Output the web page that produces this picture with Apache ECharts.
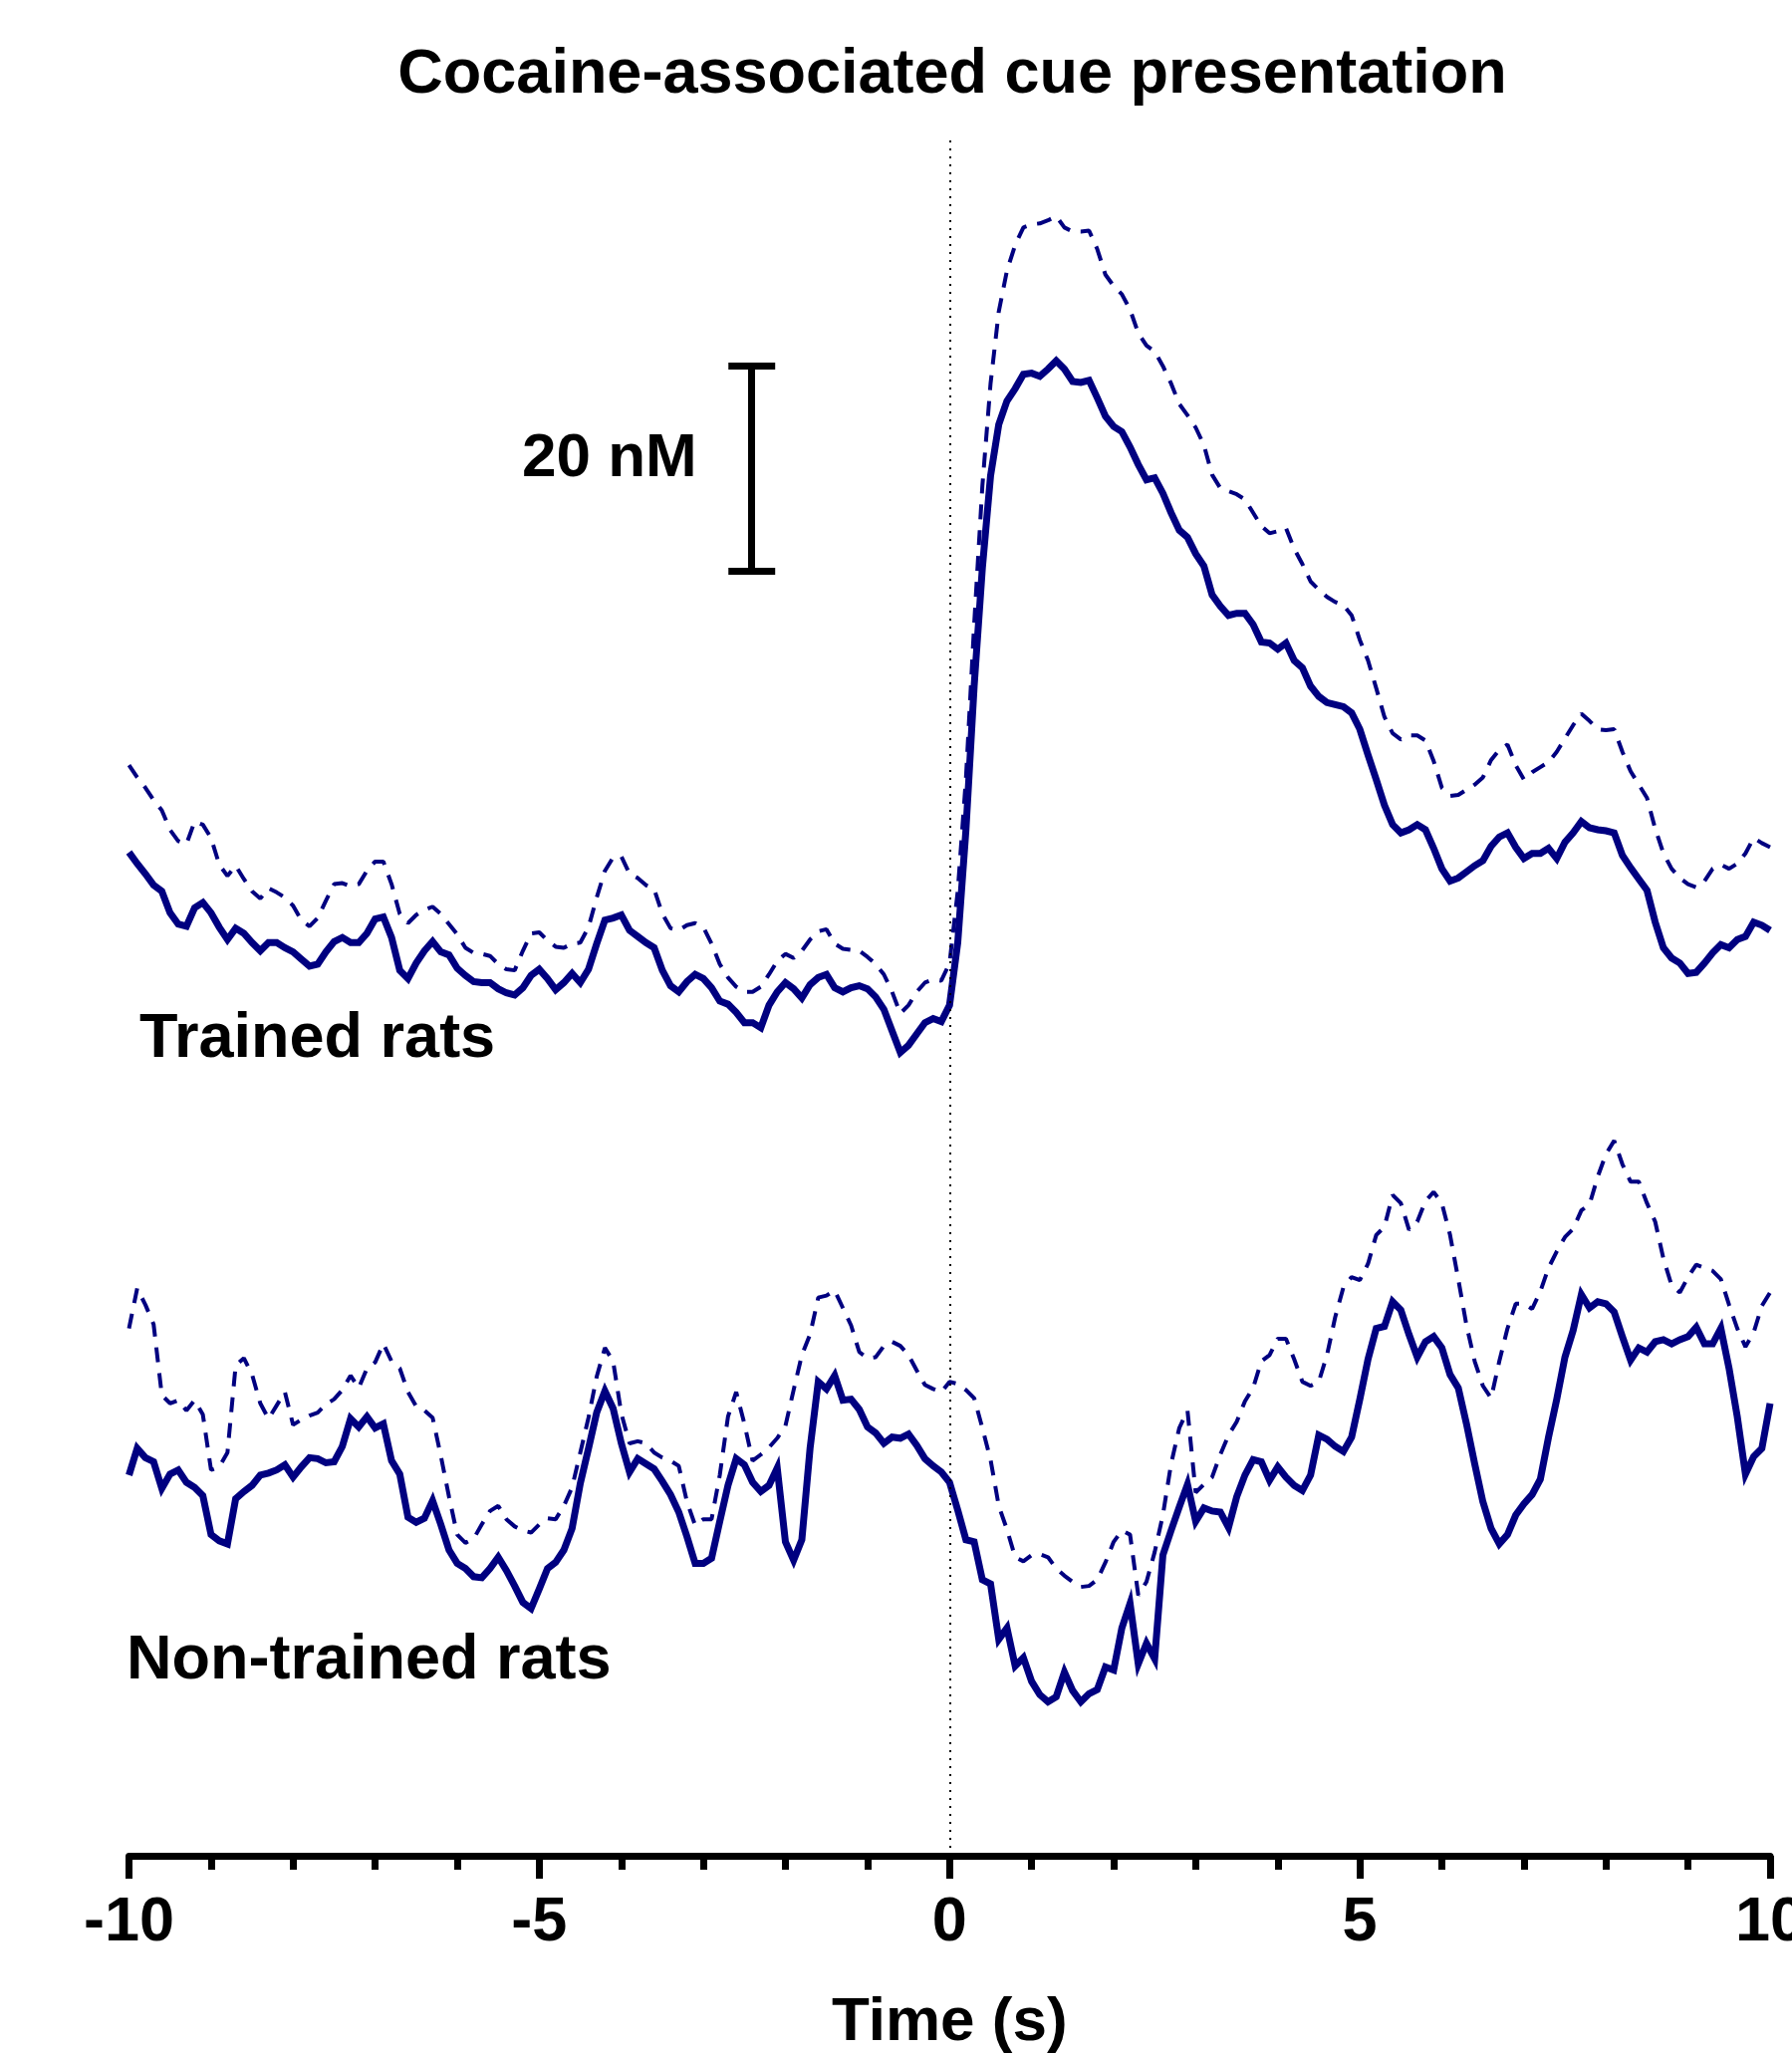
<!DOCTYPE html>
<html>
<head>
<meta charset="utf-8">
<script src="https://cdn.jsdelivr.net/npm/echarts@6/dist/echarts.min.js"></script>
<style>
html,body{margin:0;padding:0;background:#fff;}
#chart{width:1799px;height:2061px;}
</style>
</head>
<body>
<div id="chart"></div>
<script>
// Time axis: samples every 0.1 s from -10 s to +10 s
const T_START = -10;
const T_STEP = 0.1;
const xTicks = [-10, -5, 0, 5, 10];

// Dopamine concentration (nM, arbitrary baseline)
const trainedMean = [
97.8,96.7,95.7,94.6,94.0,91.9,90.8,90.6,92.4,92.9,
91.9,90.5,89.3,90.4,89.9,89.0,88.2,89.0,89.0,88.5,
88.1,87.4,86.7,86.9,88.1,89.1,89.5,89.0,89.0,89.9,
91.3,91.5,89.5,86.3,85.5,87.0,88.2,89.1,88.1,87.8,
86.5,85.8,85.2,85.1,85.1,84.5,84.1,83.9,84.6,85.8,
86.4,85.5,84.4,85.1,86.0,85.1,86.4,88.9,91.2,91.4,
91.7,90.2,89.6,89.0,88.5,86.3,84.8,84.2,85.2,85.9,
85.5,84.6,83.3,83.0,82.2,81.2,81.2,80.7,82.9,84.2,
85.1,84.5,83.6,84.9,85.6,85.9,84.6,84.2,84.6,84.8,
84.5,83.7,82.5,80.4,78.3,79.0,80.1,81.2,81.6,81.3,
82.9,
89.0,100.0,114.0,125.5,134.5,139.5,141.8,143.0,144.4,144.5,
144.2,144.9,145.7,144.9,143.7,143.6,143.8,142.1,140.3,139.3,
138.8,137.3,135.6,134.1,134.3,132.8,130.9,129.2,128.5,126.9,
125.7,122.9,121.8,120.9,121.1,121.1,120.0,118.3,118.2,117.6,
118.2,116.5,115.8,114.0,113.0,112.4,112.2,112.0,111.4,109.8,
107.3,104.9,102.4,100.5,99.7,100.0,100.5,100.0,98.2,96.2,
95.0,95.3,95.9,96.5,97.0,98.4,99.3,99.7,98.3,97.2,
97.7,97.7,98.2,97.2,98.8,99.7,100.8,100.2,100.0,99.9,
99.7,97.5,96.3,95.2,94.1,91.0,88.5,87.5,87.0,86.0,
86.1,87.0,88.0,88.8,88.5,89.3,89.6,91.0,90.7,90.2
];
const trainedUpper = [
106.3,105.1,104.1,102.9,101.9,100.0,98.9,98.6,100.8,100.5,
99.2,96.6,95.5,96.5,95.2,94.0,93.3,94.3,93.9,93.4,
92.6,91.2,90.6,91.4,93.1,94.7,94.8,94.5,94.7,96.0,
96.9,96.9,94.7,91.8,90.9,91.7,92.2,92.5,91.8,90.8,
89.8,88.5,88.0,87.9,87.7,86.9,86.4,86.3,88.2,89.9,
90.0,89.2,88.6,88.5,88.9,89.0,90.5,93.4,96.0,97.3,
97.4,95.7,95.3,94.6,94.2,91.8,90.4,90.2,90.7,90.9,
90.5,88.9,86.9,85.6,84.7,84.2,84.2,84.7,85.9,87.2,
87.9,87.5,88.2,89.3,90.1,90.3,88.9,88.4,88.3,88.2,
87.6,86.9,85.9,84.2,82.1,82.9,84.2,85.1,85.4,85.3,
87.0,
94.0,105.0,120.0,133.5,143.5,150.5,154.5,157.0,158.7,159.0,
159.1,159.4,159.8,158.7,158.3,158.3,158.4,156.6,154.1,153.0,
152.2,150.7,148.4,147.2,146.6,145.2,143.5,141.5,140.4,139.2,
137.5,134.6,133.3,133.0,132.7,132.2,130.9,129.6,128.9,129.1,
129.4,127.4,125.9,124.2,123.4,122.7,122.2,121.9,120.9,118.5,
116.5,113.8,111.0,109.4,108.8,109.2,109.2,108.7,106.7,104.1,
103.3,103.4,103.9,104.4,105.1,106.8,107.8,108.3,106.3,104.9,
105.6,106.1,106.6,107.6,108.9,110.2,111.3,110.6,109.8,109.7,
109.8,107.6,105.7,104.4,103.1,100.1,97.7,96.2,95.3,94.7,
94.4,95.0,96.2,96.6,96.2,96.7,97.7,99.2,98.7,98.3
];
const nonTrainedMean = [
37.1,39.7,38.8,38.4,35.8,37.2,37.6,36.4,35.9,35.1,
31.3,30.7,30.4,34.8,35.5,36.1,37.1,37.3,37.6,38.1,
36.9,37.9,38.8,38.7,38.3,38.4,39.9,42.6,41.8,42.8,
41.7,42.1,38.5,37.2,33.0,32.5,32.9,34.6,32.3,29.8,
28.5,28.0,27.2,27.1,28.0,29.1,27.8,26.3,24.7,24.1,
26.0,28.0,28.6,29.8,31.9,36.3,39.7,43.2,45.3,43.6,
40.2,37.4,38.7,38.2,37.7,36.5,35.2,33.5,31.1,28.5,
28.5,29.0,32.6,36.1,38.7,38.1,36.4,35.5,36.1,37.8,
30.6,28.8,30.8,39.7,46.2,45.5,46.8,44.4,44.5,43.5,
41.8,41.2,40.2,40.8,40.7,41.1,40.0,38.7,38.0,37.4,
36.4,
33.7,30.8,30.6,26.9,26.5,21.1,22.2,18.5,19.3,17.0,
15.7,15.0,15.5,17.9,16.1,15.0,15.8,16.2,18.4,18.1,
22.2,24.6,18.7,20.7,19.2,29.3,31.7,34.0,36.2,32.6,
33.9,33.6,33.5,32.0,35.0,37.1,38.6,38.4,36.6,37.9,
36.9,36.1,35.6,37.1,41.0,40.6,39.9,39.4,40.8,44.5,
48.4,51.4,51.6,54.0,53.2,50.8,48.6,50.1,50.6,49.5,
46.9,45.6,42.1,38.2,34.5,31.9,30.4,31.3,33.2,34.3,
35.2,36.7,40.8,44.5,48.6,51.2,54.7,53.4,54.0,53.8,
53.0,50.6,48.3,49.5,49.1,50.1,50.3,49.9,50.3,50.6,
51.5,49.9,49.9,51.4,47.5,42.8,37.2,38.9,39.7,44.1
];
const nonTrainedUpper = [
51.4,55.3,53.7,51.8,44.9,44.1,44.4,43.4,44.4,43.0,
37.6,37.9,39.3,47.8,48.5,46.9,44.1,42.6,43.9,45.2,
42.0,42.5,42.9,43.2,44.0,44.5,45.4,46.8,45.6,47.5,
48.1,49.9,48.2,47.5,45.2,43.8,43.4,42.7,39.0,35.0,
31.3,30.5,30.9,32.3,33.6,34.1,32.8,32.1,31.7,31.5,
32.3,32.9,32.8,34.1,35.9,39.3,42.7,46.7,49.5,48.2,
43.1,40.2,40.4,40.2,39.3,38.8,38.5,38.0,34.5,32.2,
32.8,32.8,37.1,42.8,45.2,42.1,38.5,39.1,39.8,40.7,
41.9,45.4,48.8,50.8,54.4,54.6,55.1,53.4,51.7,49.1,
48.5,48.6,49.7,50.1,49.7,48.8,47.3,45.9,45.5,45.2,
46.2,
46.0,45.4,44.6,41.7,38.6,34.1,31.8,29.1,28.7,29.3,
29.4,29.1,28.0,27.3,26.7,26.2,26.3,26.9,28.6,30.6,
31.7,31.3,25.4,26.7,29.6,33.2,38.2,41.7,43.4,35.4,
36.2,36.9,39.1,41.0,42.3,44.3,45.6,48.2,48.8,50.4,
50.4,48.4,46.2,45.8,46.2,48.8,52.5,55.4,56.4,56.1,
57.7,60.5,61.3,64.4,63.6,61.0,61.8,63.8,64.7,63.6,
60.5,56.2,51.7,48.2,45.8,44.6,48.2,51.4,53.8,53.8,
53.3,55.0,57.3,58.9,60.3,61.1,62.9,63.5,66.2,68.4,
69.7,67.4,65.7,65.7,63.6,61.8,58.2,55.6,54.9,56.4,
57.6,57.3,57.0,56.2,53.7,51.4,49.6,51.0,53.6,54.9
];

// Scale bar (20 nM) and cue-onset marker
const scaleBarX = -2.41;
const scaleBarBottom = 125.2;
const scaleBarSize = 20;
const scaleBarCap = 0.285;
const cueTime = 0;
const cueLineTop = 167.5;

const titleText = 'Cocaine-associated cue presentation';
const scaleLabel = '20 nM';
const groupLabels = ['Trained rats', 'Non-trained rats'];
const xAxisTitle = 'Time (s)';

function pairs(vals) {
  return vals.map((v, i) => [+(T_START + i * T_STEP).toFixed(1), v]);
}

const FONT = "'Liberation Sans', Arial, Helvetica, sans-serif";
const NAVY = '#000080';

const sbTop = scaleBarBottom + scaleBarSize;
const chart = echarts.init(document.getElementById('chart'), null, {renderer: 'canvas'});
chart.setOption({
  animation: false,
  backgroundColor: '#ffffff',
  grid: {left: 129.5, right: 22, top: 112, bottom: 198, containLabel: false, outerBoundsMode: 'none'},
  xAxis: {
    type: 'value', min: xTicks[0], max: xTicks[xTicks.length - 1], interval: 5,
    axisLine: {show: true, lineStyle: {color: '#000', width: 7}},
    axisTick: {show: true, length: 23, lineStyle: {color: '#000', width: 7}},
    minorTick: {show: true, splitNumber: 5, length: 14, lineStyle: {color: '#000', width: 7}},
    splitLine: {show: false},
    axisLabel: {color: '#000', fontSize: 63, fontWeight: 'bold', fontFamily: FONT, margin: 36,
      showMinLabel: true, showMaxLabel: true, hideOverlap: false},
    name: xAxisTitle, nameLocation: 'middle', nameGap: 137,
    nameTextStyle: {color: '#000', fontSize: 62, fontWeight: 'bold', fontFamily: FONT}
  },
  yAxis: {type: 'value', min: 0, max: 170, show: false, splitLine: {show: false}},
  series: [
    {type: 'line', name: 'Trained SEM', data: pairs(trainedUpper), symbol: 'none', z: 2,
     lineStyle: {color: NAVY, width: 4, type: [15, 11]}},
    {type: 'line', name: 'Trained', data: pairs(trainedMean), symbol: 'none', z: 3,
     lineStyle: {color: NAVY, width: 7, join: 'miter'},
     markLine: {silent: true, symbol: 'none', label: {show: false},
       lineStyle: {color: '#000', width: 2, type: [2, 6]},
       data: [[{coord: [cueTime, 0]}, {coord: [cueTime, cueLineTop]}]]}},
    {type: 'line', name: 'Non-trained SEM', data: pairs(nonTrainedUpper), symbol: 'none', z: 2,
     lineStyle: {color: NAVY, width: 4, type: [15, 11]}},
    {type: 'line', name: 'Non-trained', data: pairs(nonTrainedMean), symbol: 'none', z: 3,
     lineStyle: {color: NAVY, width: 7, join: 'miter'}},
    {type: 'lines', coordinateSystem: 'cartesian2d', silent: true, z: 4,
     lineStyle: {color: '#000', width: 7, opacity: 1, curveness: 0},
     data: [
       {coords: [[scaleBarX, scaleBarBottom], [scaleBarX, sbTop]]},
       {coords: [[scaleBarX - scaleBarCap, scaleBarBottom], [scaleBarX + scaleBarCap, scaleBarBottom]]},
       {coords: [[scaleBarX - scaleBarCap, sbTop], [scaleBarX + scaleBarCap, sbTop]]}
     ]}
  ],
  graphic: [
    {type: 'text', x: 956, y: 76, style: {text: titleText, fill: '#000',
      font: "bold 63px " + FONT, textAlign: 'center', textVerticalAlign: 'middle'}},
    {type: 'text', x: 524, y: 461, style: {text: scaleLabel, fill: '#000',
      font: "bold 62px " + FONT, textAlign: 'left', textVerticalAlign: 'middle'}},
    {type: 'text', x: 140, y: 1044, style: {text: groupLabels[0], fill: '#000',
      font: "bold 63px " + FONT, textAlign: 'left', textVerticalAlign: 'middle'}},
    {type: 'text', x: 127, y: 1668, style: {text: groupLabels[1], fill: '#000',
      font: "bold 63px " + FONT, textAlign: 'left', textVerticalAlign: 'middle'}}
  ]
});
</script>
</body>
</html>
